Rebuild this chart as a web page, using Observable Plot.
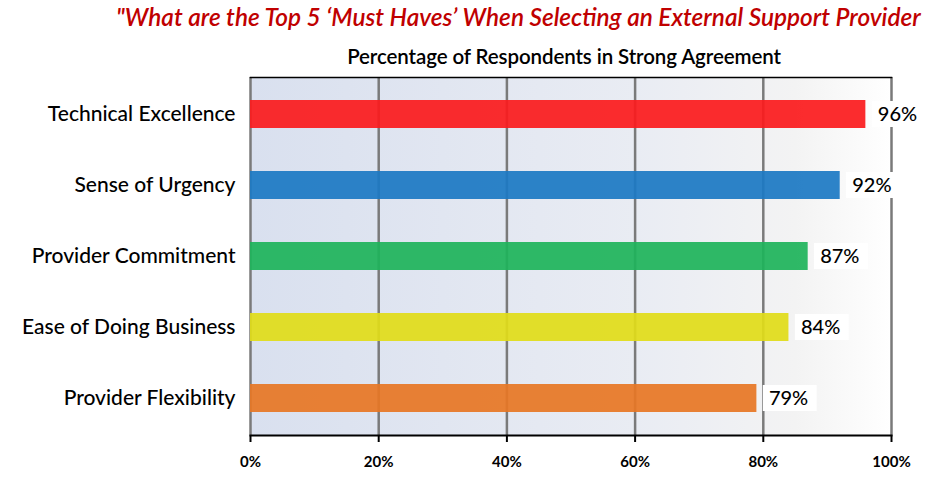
<!DOCTYPE html>
<html><head><meta charset="utf-8">
<script src="https://cdn.jsdelivr.net/npm/d3@7"></script>
<script src="https://cdn.jsdelivr.net/npm/@observablehq/plot@0.6"></script>
<style>
body{margin:0;width:930px;height:496px;overflow:hidden;background:#fff;position:relative;font-family:Lato,"Open Sans",sans-serif}
#title{position:absolute;left:116px;top:1px;white-space:nowrap;color:#c00000;font-style:italic;font-weight:600;font-size:24.4px;line-height:32px}
#subtitle{position:absolute;left:264px;width:600px;top:43px;text-align:center;font-size:20.5px;font-weight:600;line-height:26px;color:#000;letter-spacing:-0.1px}
#chart{position:absolute;left:0;top:0}
</style></head>
<body>
<div id="chart"></div>
<div id="title">"What are the Top 5 ‘Must Haves’ When Selecting an External Support Provider</div>
<div id="subtitle">Percentage of Respondents in Strong Agreement</div>
<script>
const categories = ["Technical Excellence","Sense of Urgency","Provider Commitment","Ease of Doing Business","Provider Flexibility"];
const values = [96, 92, 87, 84, 79];
const colors = ["#fb1a1c","#1b78c3","#1db35a","#e1dc18","#e77624"];
const xTicks = [0, 20, 40, 60, 80, 100];

const data = categories.map((c, i) => ({category: c, value: values[i], color: colors[i]}));

const plot = Plot.plot({
  width: 930,
  height: 496,
  marginLeft: 250,
  marginRight: 39,
  marginTop: 77,
  marginBottom: 61,
  style: {fontFamily: "Lato, 'Open Sans', sans-serif", background: "transparent", overflow: "visible"},
  x: {domain: [0, 100], ticks: xTicks, tickFormat: d => d + "%", label: null},
  y: {domain: categories, paddingInner: 0.6, paddingOuter: 0.3, label: null},
  marks: [
    Plot.frame({fill: "url(#bggrad)", stroke: null}),
    Plot.ruleX(xTicks, {stroke: "#7a7a7a", strokeWidth: 2.5}),
    Plot.frame({anchor: "top", stroke: "#000", strokeWidth: 1.5}),
    Plot.barX(data, {y: "category", x: "value", fill: "color", fillOpacity: 0.92}),
    Plot.barX(data, {y: "category", x1: d => d.value + 1.0, x2: d => d.value + 9.4, fill: "#fff", insetTop: 1, insetBottom: 1}),
    Plot.text(data, {y: "category", x: "value", text: d => d.value + "%", textAnchor: "start", dx: 12, fontSize: 20, fontWeight: 500, fill: "#000"}),
    Plot.axisX({ticks: xTicks, tickFormat: d => d + "%", tickSize: 7, tickPadding: 14, fontSize: 15, fontWeight: "bold", stroke: "#000", strokeWidth: 2, fill: "#000", label: null}),
    Plot.frame({anchor: "bottom", stroke: "#000", strokeWidth: 2}),
    Plot.axisY({tickSize: 0, tickPadding: 15, fontSize: 21, fontWeight: 500, fill: "#000", label: null})
  ]
});

const defs = d3.select(plot).insert("defs", ":first-child");
const g = defs.append("linearGradient").attr("id", "bggrad").attr("x1", "0").attr("x2", "1").attr("y1", "0").attr("y2", "0");
g.append("stop").attr("offset", "0%").attr("stop-color", "#d9e0ef");
g.append("stop").attr("offset", "60%").attr("stop-color", "#e9ecf3");
g.append("stop").attr("offset", "85%").attr("stop-color", "#f3f3f3");
g.append("stop").attr("offset", "100%").attr("stop-color", "#ffffff");

document.getElementById("chart").appendChild(plot);
</script>
</body></html>
